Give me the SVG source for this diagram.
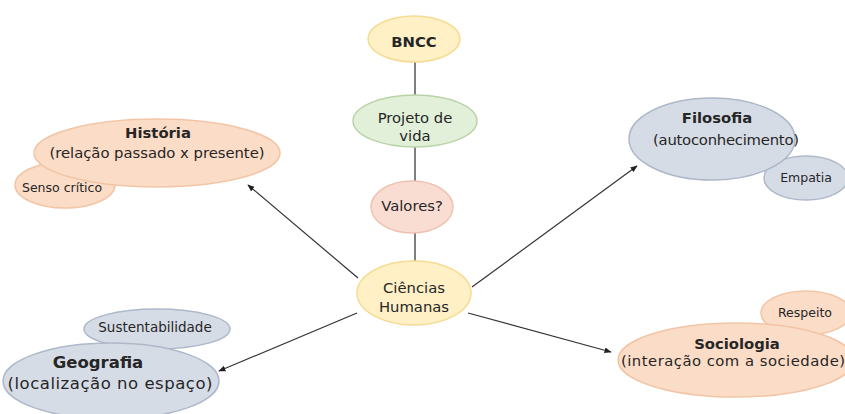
<svg xmlns="http://www.w3.org/2000/svg" width="845" height="414" viewBox="0 0 845 414">
<defs>
<style>
text{font-family:"DejaVu Sans","Liberation Sans",sans-serif;fill:#262626;text-anchor:middle}
.b{font-weight:bold}
.m{font-size:14.8px}
.g{font-size:16.5px}
.s{font-size:12.5px}
.peach{fill:#fbdcc6;stroke:#f2c5a6;stroke-width:1.5}
.blue{fill:#d6dce6;stroke:#aeb8c8;stroke-width:1.5}
.green{fill:#e2efd9;stroke:#b9d5a8;stroke-width:1.5}
.yellow{fill:#fff0c6;stroke:#f6db93;stroke-width:1.5}
.pink{fill:#f9ddd2;stroke:#eec2b0;stroke-width:1.5}
.link{stroke:#7f7f7f;stroke-width:2;fill:none}
.arrow{stroke:#333;stroke-width:1.2;fill:none;marker-end:url(#ah)}
</style>
<marker id="ah" viewBox="0 0 10 10" refX="9" refY="5" markerWidth="6" markerHeight="6" orient="auto" markerUnits="strokeWidth">
<path d="M0,1 L10,5 L0,9 z" fill="#222"/>
</marker>
</defs>
<rect width="845" height="414" fill="#fff"/>
<g id="connectors">
<line class="link" x1="415" y1="61" x2="415" y2="96"/>
<line class="link" x1="415" y1="146" x2="415" y2="181"/>
<line class="link" x1="415" y1="233" x2="415" y2="262"/>
<line class="arrow" x1="358" y1="278" x2="248" y2="185"/>
<line class="arrow" x1="472" y1="287" x2="637" y2="166"/>
<line class="arrow" x1="357" y1="313" x2="219" y2="371"/>
<line class="arrow" x1="468" y1="313" x2="611" y2="352"/>
</g>
<g id="bncc"><ellipse class="yellow" cx="414" cy="39" rx="46" ry="23"/><text class="b m" x="414" y="47">BNCC</text></g>
<g id="projeto"><ellipse class="green" cx="415" cy="121" rx="62" ry="26"/><text class="m" x="415" y="123">Projeto de</text><text class="m" x="415" y="141">vida</text></g>
<g id="valores"><ellipse class="pink" cx="412" cy="207" rx="41" ry="26"/><text class="m" x="412" y="211">Valores?</text></g>
<g id="ciencias"><ellipse class="yellow" cx="414" cy="293" rx="57" ry="32"/><text class="m" x="414" y="293">Ciências</text><text class="m" x="414" y="312">Humanas</text></g>
<g id="senso"><ellipse class="peach" cx="65" cy="185" rx="50" ry="23"/><text class="s" x="62" y="192">Senso crítico</text></g>
<g id="historia"><ellipse class="peach" cx="157" cy="153" rx="123" ry="34"/><text class="b m" x="158" y="138">História</text><text class="m" x="157" y="158" textLength="215">(relação passado x presente)</text></g>
<g id="empatia"><ellipse class="blue" cx="806" cy="178" rx="42" ry="22"/><text class="s" x="806" y="182">Empatia</text></g>
<g id="filosofia"><ellipse class="blue" cx="712" cy="139" rx="83" ry="41"/><text class="b m" x="717" y="123">Filosofia</text><text class="m" x="726" y="145" textLength="146">(autoconhecimento)</text></g>
<g id="sustentabilidade"><ellipse class="blue" cx="157" cy="329" rx="73" ry="20"/><text x="155" y="332" font-size="13.5">Sustentabilidade</text></g>
<g id="geografia"><ellipse class="blue" cx="111" cy="381" rx="108" ry="38"/><text class="b g" x="98" y="368">Geografia</text><text class="g" x="110" y="389" textLength="205">(localização no espaço)</text></g>
<g id="respeito"><ellipse class="peach" cx="806" cy="313" rx="45" ry="22"/><text class="s" x="805" y="317">Respeito</text></g>
<g id="sociologia"><ellipse class="peach" cx="736" cy="360" rx="118" ry="37"/><text class="b m" x="737" y="349">Sociologia</text><text class="m" x="733" y="366" textLength="224">(interação com a sociedade)</text></g>
</svg>
